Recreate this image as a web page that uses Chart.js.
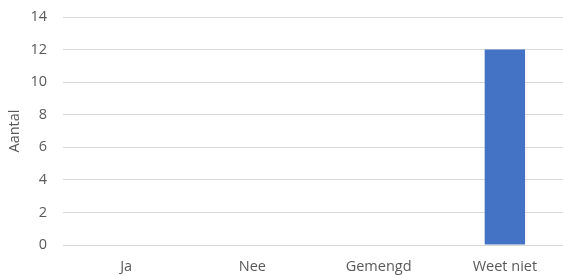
<!DOCTYPE html>
<html>
<head>
<meta charset="utf-8">
<script src="https://cdn.jsdelivr.net/npm/chart.js"></script>
<style>
  html, body { margin: 0; padding: 0; background: #fff; overflow: hidden; }
  canvas { display: block; }
</style>
</head>
<body>
<canvas id="grafiek" width="568" height="275"></canvas>
<script>
"use strict";
// Antwoorden en aantallen
const categorieen = ['Ja', 'Nee', 'Gemengd', 'Weet niet'];
const aantallen = [0, 0, 0, 12];
const yMin = 0, yMax = 14, yStap = 2;

const tekstKleur = '#595959';
const lettertype = "'Open Sans', 'Liberation Sans', sans-serif";
const letter = { family: lettertype, size: 14.5 };

const ctx = document.getElementById('grafiek').getContext('2d');
new Chart(ctx, {
  type: 'bar',
  data: {
    labels: categorieen,
    datasets: [{
      label: 'Aantal',
      data: aantallen,
      backgroundColor: '#4472C4',
      borderWidth: 0,
      categoryPercentage: 1,
      barPercentage: 0.32
    }]
  },
  options: {
    responsive: false,
    animation: false,
    layout: { padding: { top: 17, right: 0, bottom: 0, left: 0 } },
    plugins: {
      legend: { display: false },
      tooltip: { enabled: false }
    },
    scales: {
      x: {
        afterFit: (s) => { s.height = 30; },
        grid: { display: false, drawTicks: false },
        border: { display: false },
        ticks: { color: tekstKleur, font: letter, padding: 13, maxRotation: 0 }
      },
      y: {
        min: yMin,
        max: yMax,
        afterFit: (s) => { s.width = 63; s.paddingTop = 0; s.paddingBottom = 0; },
        grid: { color: '#D9D9D9', drawTicks: false, lineWidth: 1 },
        border: { display: false },
        ticks: { stepSize: yStap, color: tekstKleur, font: letter, padding: 16 },
        title: { display: true, text: 'Aantal', color: tekstKleur, font: letter, padding: { top: 6, bottom: 0 } }
      }
    }
  }
});
</script>
</body>
</html>
